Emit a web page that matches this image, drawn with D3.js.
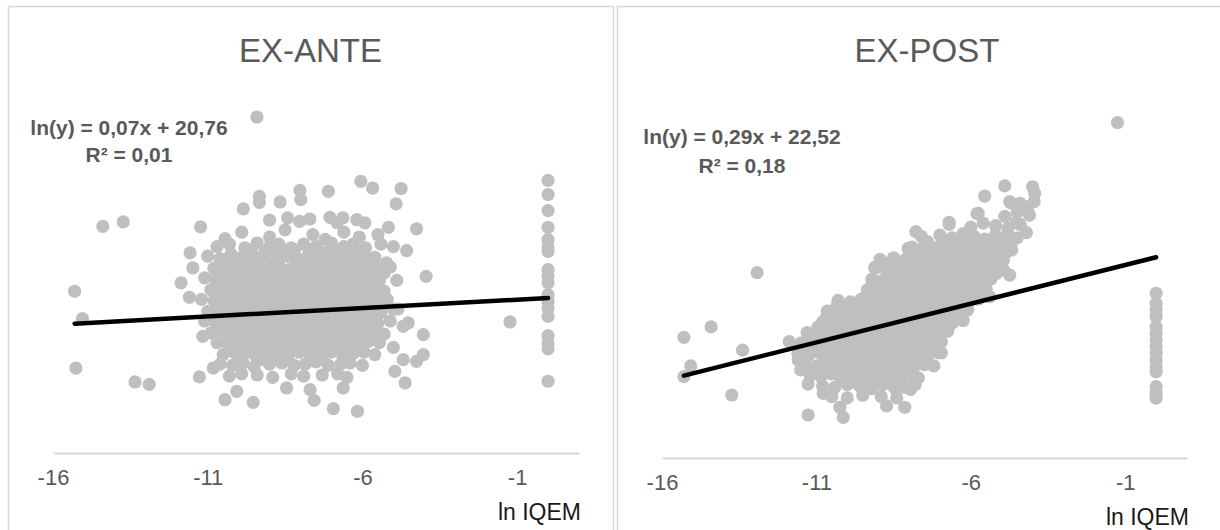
<!DOCTYPE html>
<html>
<head>
<meta charset="utf-8">
<script src="https://cdn.jsdelivr.net/npm/d3@7"></script>
<style>
  html, body { margin: 0; padding: 0; background: #fff; }
  svg { display: block; }
</style>
</head>
<body>
<svg id="chart"></svg>
<script>
const width = 1220;
const height = 530;

// ---- data (x = ln IQEM, y = ln(y)) ----
const titles = ["EX-ANTE", "EX-POST"];
const xTicks = [-16, -11, -6, -1];
const xLabel = "ln IQEM";
const slopes = [0.07, 0.29];
const intercepts = [20.76, 22.52];
const r2s = [0.01, 0.18];

const antePoints = [
  // outliers
  [-9.41,28.3],[-14.39,23.74],[-13.73,23.93],[-15.3,21.04],[-15.05,19.9],[-15.26,17.84],[-13.35,17.26],[-12.89,17.16],[-1.23,19.76],
  // column at 0
  [0,25.66],[0,25.07],[0,24.40],[0,23.70],[0,23.19],[0,22.89],[0,22.70],[0,21.94],[0,21.66],[0,21.39],[0,20.90],[0,20.62],[0,20.34],[0,19.99],[0,19.19],[0,18.89],[0,18.64],[0,17.29],
  // cloud edge
  [-6.05,25.62],[-5.67,25.34],[-4.75,25.32],[-4.91,24.68],[-7.10,25.20],[-8.02,25.24],[-7.99,24.86],[-9.33,24.99],[-9.33,24.74],[-8.66,24.76],
  [-9.85,24.47],[-11.23,23.72],[-10.44,23.23],[-11.57,22.64],[-11.48,22.01],[-11.86,21.39],[-11.59,20.79],[-5.16,23.70],[-4.25,23.64],[-4.57,22.73],
  [-3.94,21.66],[-4.89,21.49],[-7.05,24.12],[-6.18,24.02],[-5.92,23.89],[-11.16,19.16],[-11.27,17.47],[-10.44,16.52],[-9.53,16.41],[-8.45,17.01],
  [-7.56,16.49],[-6.94,16.15],[-6.16,16.04],[-4.62,17.22],[-4.95,17.70],[-4.03,19.23],[-4.03,18.40],[-4.25,18.12],[-4.52,19.72],[-4.68,18.19],
  [-10.82,17.84],[-10.06,16.87],[-7.69,16.94],[-6.62,17.01],[-9.0,24.0],[-8.42,24.1],[-8.03,23.95],[-7.7,24.05],[-6.82,23.9],[-6.63,24.1],
  [-5.22,22.22],[-4.85,20.3],[-4.68,19.58],[-5.0,18.7],
  // cloud core
  [-9.9,23.5],[-9.0,23.3],[-8.5,23.6],[-7.6,23.4],[-7.2,23.2],[-6.6,23.5],[-6.1,23.3],[-5.5,23.4],
  [-10.7,22.9],[-10.3,23.0],[-9.8,22.85],[-9.4,23.05],[-9.0,22.9],[-8.7,23.0],[-8.3,22.85],[-7.9,23.0],[-7.5,22.9],[-7.0,23.05],[-6.6,22.9],[-6.3,23.0],[-5.9,22.85],[-5.4,23.0],[-5.0,22.9],
  [-11.0,22.5],[-10.6,22.4],[-10.25,22.6],[-9.9,22.45],[-9.55,22.55],[-9.2,22.4],[-8.8,22.6],[-8.45,22.5],[-8.1,22.4],[-7.75,22.55],[-7.4,22.45],[-7.05,22.6],[-6.7,22.4],[-6.3,22.5],[-5.95,22.6],[-5.6,22.45],
  [-10.8,22.0],[-10.45,22.1],[-10.1,21.95],[-9.75,22.1],[-9.4,22.0],[-9.05,22.05],[-8.7,22.15],[-8.35,21.95],[-8.0,22.05],[-7.65,22.1],[-7.3,22.0],[-6.95,22.1],[-6.6,21.95],[-6.25,22.05],[-5.9,22.1],[-5.5,22.0],[-5.1,22.05],
  [-11.1,21.6],[-10.75,21.55],[-10.4,21.65],[-10.05,21.6],[-9.7,21.5],[-9.35,21.65],[-9.0,21.6],[-8.6,21.55],[-8.25,21.7],[-7.9,21.6],[-7.55,21.5],[-7.2,21.65],[-6.85,21.6],[-6.5,21.55],[-6.15,21.65],[-5.8,21.6],[-5.45,21.5],
  [-10.9,21.1],[-10.55,21.2],[-10.2,21.15],[-9.85,21.05],[-9.5,21.2],[-9.15,21.15],[-8.8,21.1],[-8.45,21.2],[-8.1,21.15],[-7.75,21.05],[-7.4,21.2],[-7.05,21.1],[-6.7,21.15],[-6.35,21.2],[-6.0,21.1],[-5.65,21.15],[-5.3,21.05],
  [-11.2,20.7],[-10.8,20.65],[-10.45,20.75],[-10.1,20.7],[-9.75,20.6],[-9.4,20.75],[-9.05,20.7],[-8.7,20.65],[-8.35,20.75],[-8.0,20.7],[-7.65,20.6],[-7.3,20.75],[-6.95,20.7],[-6.6,20.65],[-6.25,20.75],[-5.9,20.7],[-5.55,20.6],[-5.2,20.7],
  [-11.0,20.2],[-10.65,20.3],[-10.3,20.25],[-9.95,20.15],[-9.6,20.3],[-9.25,20.25],[-8.9,20.2],[-8.55,20.3],[-8.2,20.25],[-7.85,20.15],[-7.5,20.3],[-7.15,20.2],[-6.8,20.25],[-6.45,20.3],[-6.1,20.2],[-5.75,20.25],[-5.4,20.15],[-5.0,20.3],
  [-11.1,19.8],[-10.75,19.75],[-10.4,19.85],[-10.05,19.8],[-9.7,19.7],[-9.35,19.85],[-9.0,19.8],[-8.65,19.75],[-8.3,19.85],[-7.95,19.8],[-7.6,19.7],[-7.25,19.85],[-6.9,19.8],[-6.55,19.75],[-6.2,19.85],[-5.85,19.8],[-5.5,19.7],[-5.1,19.8],
  [-10.9,19.3],[-10.55,19.4],[-10.2,19.35],[-9.85,19.25],[-9.5,19.4],[-9.15,19.35],[-8.8,19.3],[-8.45,19.4],[-8.1,19.35],[-7.75,19.25],[-7.4,19.4],[-7.05,19.3],[-6.7,19.35],[-6.35,19.4],[-6.0,19.3],[-5.65,19.35],[-5.3,19.25],
  [-10.7,18.9],[-10.35,18.85],[-10.0,18.95],[-9.65,18.9],[-9.3,18.8],[-8.95,18.95],[-8.6,18.9],[-8.25,18.85],[-7.9,18.95],[-7.55,18.9],[-7.2,18.8],[-6.85,18.95],[-6.5,18.9],[-6.15,18.85],[-5.8,18.95],[-5.45,18.9],
  [-10.5,18.4],[-10.15,18.5],[-9.8,18.45],[-9.45,18.35],[-9.1,18.5],[-8.75,18.45],[-8.4,18.4],[-8.05,18.5],[-7.7,18.45],[-7.35,18.35],[-7.0,18.5],[-6.65,18.4],[-6.3,18.45],[-5.95,18.5],[-5.6,18.4],
  [-10.6,18.0],[-10.2,17.95],[-9.85,18.05],[-9.5,17.9],[-9.0,18.0],[-8.6,18.05],[-8.2,17.95],[-7.85,18.0],[-7.5,18.1],[-7.1,17.95],[-6.7,18.0],[-6.4,18.05],[-6.0,17.95],
  [-10.3,17.5],[-9.9,17.6],[-9.4,17.55],[-8.9,17.45],[-8.3,17.6],[-7.9,17.5],[-7.3,17.55],[-6.8,17.6],[-6.5,17.45]
];

// points filling the dense middle of the ex-ante cloud
const anteDense = [
  [-9.6,22.75],[-9.15,22.65],[-8.6,22.7],[-8.2,22.75],[-7.6,22.7],[-7.2,22.65],[-6.85,22.75],[-6.5,22.7],[-6.1,22.65],
  [-10.25,22.3],[-9.9,22.2],[-9.55,22.3],[-9.2,22.25],[-8.85,22.2],[-8.15,22.25],[-7.8,22.2],[-7.45,22.3],[-7.1,22.25],[-6.75,22.2],[-6.4,22.3],[-6.05,22.25],[-5.7,22.2],
  [-10.6,21.85],[-10.25,21.75],[-9.9,21.8],[-9.55,21.85],[-9.2,21.8],[-8.85,21.75],[-8.45,21.85],[-8.1,21.8],[-7.75,21.8],[-7.4,21.85],[-7.05,21.75],[-6.7,21.8],[-6.35,21.85],[-6.0,21.8],[-5.65,21.75],[-5.3,21.8],
  [-10.65,21.4],[-10.3,21.3],[-9.95,21.35],[-9.6,21.4],[-9.25,21.35],[-8.9,21.3],[-8.55,21.4],[-8.2,21.35],[-7.85,21.3],[-7.5,21.4],[-7.15,21.35],[-6.8,21.3],[-6.45,21.4],[-6.1,21.35],[-5.75,21.3],
  [-10.7,20.9],[-10.35,21.0],[-10.0,20.95],[-9.6,20.9],[-9.25,21.0],[-8.9,20.95],[-8.55,20.9],[-8.2,20.95],[-7.85,21.0],[-7.5,20.9],[-7.15,20.95],[-6.8,20.9],[-6.45,21.0],[-6.1,20.95],[-5.75,20.9],[-5.4,20.95],
  [-10.5,20.45],[-10.15,20.55],[-9.8,20.5],[-9.45,20.45],[-9.1,20.5],[-8.75,20.55],[-8.4,20.45],[-8.05,20.5],[-7.7,20.5],[-7.35,20.45],[-7.0,20.55],[-6.65,20.5],[-6.3,20.45],[-5.95,20.5],[-5.6,20.55],
  [-10.55,20.05],[-10.2,19.95],[-9.85,20.0],[-9.5,20.05],[-9.15,20.0],[-8.8,19.95],[-8.45,20.05],[-8.1,20.0],[-7.75,20.0],[-7.4,20.05],[-7.05,19.95],[-6.7,20.0],[-6.35,20.05],[-6.0,20.0],[-5.65,19.95],
  [-10.4,19.6],[-10.05,19.5],[-9.7,19.55],[-9.35,19.6],[-9.0,19.55],[-8.65,19.5],[-8.3,19.6],[-7.95,19.55],[-7.6,19.5],[-7.25,19.6],[-6.9,19.55],[-6.55,19.5],[-6.2,19.6],[-5.85,19.55],
  [-10.35,19.15],[-10.0,19.05],[-9.65,19.1],[-9.3,19.15],[-8.95,19.1],[-8.6,19.05],[-8.25,19.15],[-7.9,19.1],[-7.55,19.05],[-7.2,19.15],[-6.85,19.1],[-6.5,19.05],[-6.15,19.15],[-5.8,19.1],
  [-10.0,18.7],[-9.65,18.6],[-9.3,18.65],[-8.9,18.7],[-8.55,18.65],[-8.2,18.6],[-7.85,18.7],[-7.5,18.65],[-7.15,18.6],[-6.8,18.7],[-6.45,18.65],[-6.1,18.6],
  [-10.0,18.25],[-9.25,18.2],[-8.8,18.25],[-8.4,18.2],[-7.65,18.25],[-7.3,18.2],[-6.55,18.25]
];

const postPoints = [
  // outliers
  [-1.25,27.56],[-15.29,18.05],[-15.07,18.45],[-15.29,19.52],[-14.41,19.91],[-12.92,21.94],[-13.39,19.04],[-13.74,17.36],[-11.27,16.61],[-11.27,17.77],
  [-11.88,19.36],[-11.24,19.64],[-11.59,18.67],[-11.51,18.30],
  // column at 0
  [0,21.17],[0,20.79],[0,20.54],[0,20.29],[0,19.92],[0,19.67],[0,19.42],[0,19.17],[0,18.92],[0,18.67],[0,18.42],[0,18.23],[0,17.67],[0,17.42],[0,17.24],
  // cloud edge
  [-4.90,25.19],[-4.00,25.16],[-3.93,24.91],[-4.15,24.41],[-4.41,24.54],[-4.74,24.60],[-5.55,24.81],[-5.76,24.16],[-6.70,23.83],[-7.78,23.48],
  [-4.20,23.44],[-4.54,23.81],[-4.68,22.79],[-8.03,22.85],[-8.94,22.44],[-9.11,22.14],[-4.74,21.85],[-5.17,21.92],[-5.39,21.04],[-10.35,20.67],
  [-10.67,20.29],[-11.27,19.61],[-6.95,18.94],[-7.38,18.57],[-8.46,17.61],[-7.95,17.57],[-8.73,16.95],[-8.14,16.90],[-10.24,16.90],[-10.13,16.52],[-10.78,17.42],
  // cloud core
  [-4.7,24.55],[-4.3,24.4],[-3.95,24.6],
  [-5.8,24.15],[-4.9,24.05],[-4.5,24.2],[-4.1,24.1],
  [-6.7,23.75],[-6.0,23.65],[-5.6,23.8],[-5.2,23.7],[-4.8,23.6],[-4.4,23.75],
  [-7.6,23.3],[-7.0,23.35],[-6.6,23.25],[-6.25,23.4],[-5.9,23.3],[-5.55,23.2],[-5.2,23.35],[-4.85,23.3],[-4.5,23.25],
  [-7.9,22.9],[-7.5,22.95],[-7.15,22.85],[-6.8,23.0],[-6.45,22.9],[-6.1,22.85],[-5.75,22.95],[-5.4,22.9],[-5.05,22.85],[-4.7,22.95],
  [-8.5,22.5],[-8.1,22.45],[-7.75,22.55],[-7.4,22.5],[-7.05,22.4],[-6.7,22.55],[-6.35,22.5],[-6.0,22.45],[-5.65,22.55],[-5.3,22.5],[-4.95,22.4],
  [-9.1,22.1],[-8.75,22.05],[-8.4,22.15],[-8.05,22.1],[-7.7,22.0],[-7.35,22.15],[-7.0,22.1],[-6.65,22.05],[-6.3,22.15],[-5.95,22.1],[-5.6,22.0],[-5.25,22.1],[-4.95,22.05],
  [-9.2,21.7],[-8.85,21.65],[-8.5,21.75],[-8.15,21.7],[-7.8,21.6],[-7.45,21.75],[-7.1,21.7],[-6.75,21.65],[-6.4,21.75],[-6.05,21.7],[-5.7,21.6],[-5.35,21.7],
  [-9.35,21.3],[-9.0,21.25],[-8.65,21.35],[-8.3,21.3],[-7.95,21.2],[-7.6,21.35],[-7.25,21.3],[-6.9,21.25],[-6.55,21.35],[-6.2,21.3],[-5.85,21.2],[-5.5,21.3],
  [-10.3,20.9],[-9.9,20.85],[-9.55,20.95],[-9.2,20.9],[-8.85,20.8],[-8.5,20.95],[-8.15,20.9],[-7.8,20.85],[-7.45,20.95],[-7.1,20.9],[-6.75,20.8],[-6.4,20.9],[-6.05,20.85],[-5.75,20.95],
  [-10.65,20.5],[-10.3,20.45],[-9.95,20.55],[-9.6,20.5],[-9.25,20.4],[-8.9,20.55],[-8.55,20.5],[-8.2,20.45],[-7.85,20.55],[-7.5,20.5],[-7.15,20.4],[-6.8,20.5],[-6.45,20.45],[-6.1,20.55],
  [-10.8,20.1],[-10.45,20.05],[-10.1,20.15],[-9.75,20.1],[-9.4,20.0],[-9.05,20.15],[-8.7,20.1],[-8.35,20.05],[-8.0,20.15],[-7.65,20.1],[-7.3,20.0],[-6.95,20.1],[-6.6,20.05],[-6.25,20.15],
  [-11.3,19.7],[-10.95,19.65],[-10.6,19.75],[-10.25,19.7],[-9.9,19.6],[-9.55,19.75],[-9.2,19.7],[-8.85,19.65],[-8.5,19.75],[-8.15,19.7],[-7.8,19.6],[-7.45,19.7],[-7.1,19.65],[-6.75,19.75],
  [-11.5,19.3],[-11.15,19.25],[-10.8,19.35],[-10.45,19.3],[-10.1,19.2],[-9.75,19.35],[-9.4,19.3],[-9.05,19.25],[-8.7,19.35],[-8.35,19.3],[-8.0,19.2],[-7.65,19.3],[-7.3,19.25],[-6.95,19.35],
  [-11.6,18.9],[-11.25,18.85],[-10.9,18.95],[-10.55,18.9],[-10.2,18.8],[-9.85,18.95],[-9.5,18.9],[-9.15,18.85],[-8.8,18.95],[-8.45,18.9],[-8.1,18.8],[-7.75,18.9],[-7.4,18.85],[-7.05,18.95],
  [-11.35,18.5],[-11.0,18.45],[-10.65,18.55],[-10.3,18.5],[-9.95,18.4],[-9.6,18.55],[-9.25,18.5],[-8.9,18.45],[-8.55,18.55],[-8.2,18.5],[-7.85,18.4],[-7.5,18.5],[-7.2,18.45],
  [-11.2,18.1],[-10.85,18.05],[-10.5,18.15],[-10.15,18.1],[-9.8,18.0],[-9.45,18.15],[-9.1,18.1],[-8.75,18.05],[-8.4,18.15],[-8.05,18.1],[-7.7,18.0],
  [-10.8,17.7],[-10.4,17.65],[-10.0,17.75],[-9.6,17.7],[-9.2,17.6],[-8.85,17.75],[-8.5,17.7],[-8.15,17.65],[-7.8,17.75],
  [-10.5,17.3],[-10.0,17.25],[-9.5,17.35],[-8.9,17.3],[-8.4,17.25]
];

// points filling the dense band of the ex-post cloud
const postDense = [
  [-7.4,23.1],[-6.95,23.05],[-6.6,23.15],[-6.25,23.1],[-5.9,23.05],[-5.55,23.15],[-5.2,23.1],[-4.85,23.05],
  [-7.7,22.75],[-7.3,22.65],[-6.95,22.7],[-6.6,22.75],[-6.25,22.65],[-5.9,22.7],[-5.55,22.75],[-5.2,22.65],[-4.85,22.7],
  [-8.8,22.3],[-8.4,22.35],[-8.05,22.25],[-7.7,22.3],[-7.35,22.35],[-7.0,22.25],[-6.65,22.3],[-6.3,22.35],[-5.95,22.25],[-5.6,22.3],[-5.25,22.35],
  [-8.55,21.95],[-8.2,21.85],[-7.85,21.9],[-7.5,21.95],[-7.15,21.85],[-6.8,21.9],[-6.45,21.95],[-6.1,21.85],[-5.75,21.9],[-5.4,21.95],
  [-9.2,21.5],[-8.85,21.55],[-8.5,21.45],[-8.15,21.5],[-7.8,21.55],[-7.45,21.45],[-7.1,21.5],[-6.75,21.55],[-6.4,21.45],[-6.05,21.5],[-5.7,21.55],
  [-9.35,21.15],[-9.0,21.05],[-8.65,21.1],[-8.3,21.15],[-7.95,21.05],[-7.6,21.1],[-7.25,21.15],[-6.9,21.05],[-6.55,21.1],[-6.2,21.15],[-5.9,21.05],
  [-10.1,20.7],[-9.75,20.75],[-9.4,20.65],[-9.05,20.7],[-8.7,20.75],[-8.35,20.65],[-8.0,20.7],[-7.65,20.75],[-7.3,20.65],[-6.95,20.7],[-6.6,20.75],[-6.25,20.65],
  [-10.15,20.35],[-9.8,20.25],[-9.45,20.3],[-9.1,20.35],[-8.75,20.25],[-8.4,20.3],[-8.05,20.35],[-7.7,20.25],[-7.35,20.3],[-7.0,20.35],[-6.65,20.25],[-6.35,20.3],
  [-10.95,19.9],[-10.6,19.95],[-10.25,19.85],[-9.9,19.9],[-9.55,19.95],[-9.2,19.85],[-8.85,19.9],[-8.5,19.95],[-8.15,19.85],[-7.8,19.9],[-7.45,19.95],[-7.1,19.85],
  [-10.95,19.55],[-10.6,19.45],[-10.25,19.5],[-9.9,19.55],[-9.55,19.45],[-9.2,19.5],[-8.85,19.55],[-8.5,19.45],[-8.15,19.5],[-7.8,19.55],[-7.45,19.45],[-7.1,19.5],
  [-11.3,19.1],[-10.95,19.15],[-10.6,19.05],[-10.25,19.1],[-9.9,19.15],[-9.55,19.05],[-9.2,19.1],[-8.85,19.15],[-8.5,19.05],[-8.15,19.1],[-7.8,19.15],[-7.45,19.05],
  [-10.75,18.75],[-10.4,18.65],[-10.05,18.7],[-9.7,18.75],[-9.35,18.65],[-9.0,18.7],[-8.65,18.75],[-8.3,18.65],[-7.95,18.7],[-7.6,18.75],
  [-11.0,18.3],[-10.65,18.35],[-10.3,18.25],[-9.95,18.3],[-9.6,18.35],[-9.25,18.25],[-8.9,18.3],[-8.55,18.35],[-8.2,18.25],
  [-10.2,17.95],[-9.8,17.85],[-9.4,17.9],[-9.0,17.95],[-8.65,17.85],[-8.3,17.9]
];

const xDomain = [-16, 1];
const yDomains = [[14.3, 29.4], [15, 28]];

// ---- layout ----
const panels = [
  { box: [8, 6, 605, 560], plot: { left: 53, right: 579, bottom: 453, top: 90.6 }, eqX: 129, eqY: 135, eqY2: 162 },
  { box: [617, 6, 620, 560], plot: { left: 662, right: 1187, bottom: 458, top: 110.9 }, eqX: 742, eqY: 144, eqY2: 173 }
];

const svg = d3.select("#chart")
  .attr("width", width)
  .attr("height", height)
  .attr("viewBox", [0, 0, width, height]);

const font = "'Liberation Sans', Arial, sans-serif";
const fmt = v => v.toFixed(2).replace(".", ",");

[antePoints.concat(anteDense), postPoints.concat(postDense)].forEach((points, i) => {
  const p = panels[i];
  const g = svg.append("g");

  // panel frame
  g.append("rect")
    .attr("x", p.box[0] + 0.5)
    .attr("y", p.box[1] + 0.5)
    .attr("width", p.box[2])
    .attr("height", p.box[3])
    .attr("fill", "#fff")
    .attr("stroke", "#d9d9d9")
    .attr("stroke-width", 1.5);

  const x = d3.scaleLinear().domain(xDomain).range([p.plot.left, p.plot.right]);
  const y = d3.scaleLinear().domain(yDomains[i]).range([p.plot.bottom, p.plot.top]);

  // title
  g.append("text")
    .attr("x", p.box[0] + p.box[2] / 2)
    .attr("y", 62)
    .attr("text-anchor", "middle")
    .style("font-family", font)
    .style("font-size", "33px")
    .attr("fill", "#595959")
    .text(titles[i]);

  // x axis (plain hyphen minus, as in the original)
  const axis = g.append("g")
    .attr("transform", `translate(0,${p.plot.bottom})`)
    .call(d3.axisBottom(x).tickValues(xTicks).tickSize(0).tickPadding(16).tickFormat(d => String(d)));
  axis.select(".domain").attr("stroke", "#d9d9d9").attr("stroke-width", 2);
  axis.selectAll("text")
    .style("font-family", font)
    .style("font-size", "22px")
    .attr("fill", "#595959");

  g.append("text")
    .attr("x", p.plot.right + 2)
    .attr("y", p.plot.bottom + 67)
    .attr("text-anchor", "end")
    .style("font-family", font)
    .style("font-size", "23px")
    .attr("fill", "#1a1a1a")
    .text(xLabel);

  // points
  g.append("g")
    .selectAll("circle")
    .data(points)
    .join("circle")
    .attr("cx", d => x(d[0]))
    .attr("cy", d => y(d[1]))
    .attr("r", 6.6)
    .attr("fill", "#bfbfbf");

  // trendline over the data range
  const ext = d3.extent(points, d => d[0]);
  const line = d3.line().x(d => x(d)).y(d => y(slopes[i] * d + intercepts[i]));
  g.append("path")
    .attr("d", line(ext))
    .attr("fill", "none")
    .attr("stroke", "#000")
    .attr("stroke-width", 4.5)
    .attr("stroke-linecap", "round");

  // equation label
  const eq = g.append("text")
    .attr("text-anchor", "middle")
    .style("font-family", font)
    .style("font-size", "21px")
    .style("font-weight", "bold")
    .attr("fill", "#595959");
  eq.append("tspan").attr("x", p.eqX).attr("y", p.eqY)
    .text(`ln(y) = ${fmt(slopes[i])}x + ${fmt(intercepts[i])}`);
  eq.append("tspan").attr("x", p.eqX).attr("y", p.eqY2)
    .text(`R² = ${fmt(r2s[i])}`);
});
</script>
</body>
</html>
